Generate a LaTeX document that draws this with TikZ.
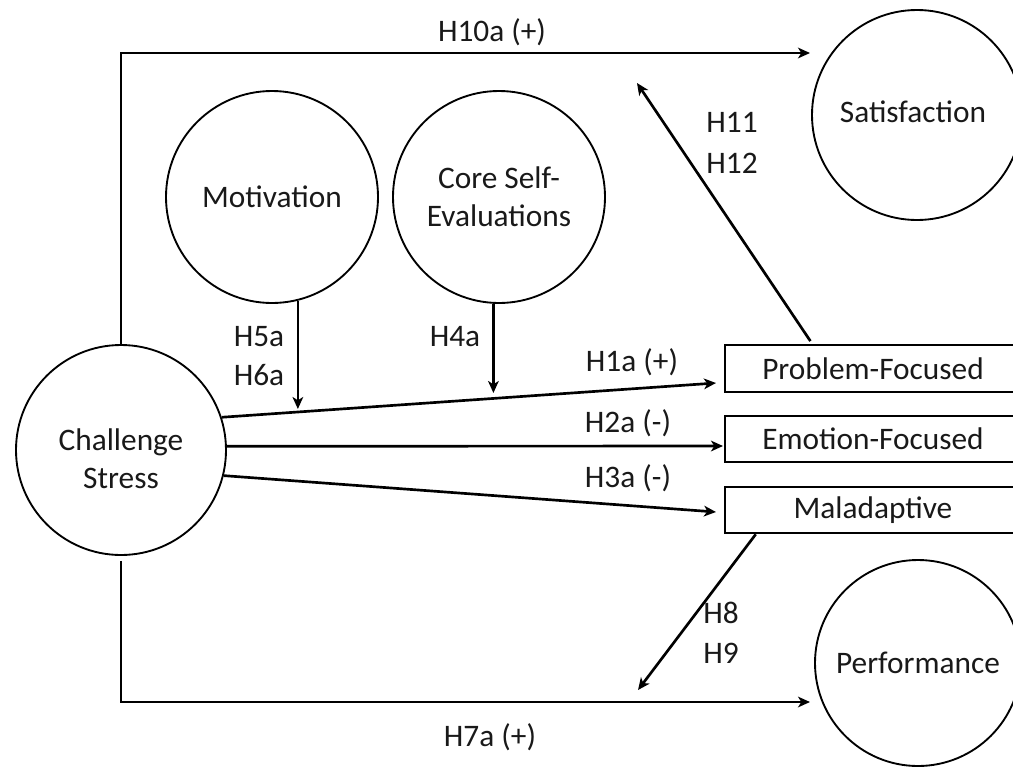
\documentclass[tikz,border=0pt]{standalone}
\usepackage{fontspec}
\setmainfont{Carlito}
\usetikzlibrary{arrows.meta}
\begin{document}
\begin{tikzpicture}[x=0.75pt,y=-0.75pt,
  every node/.style={font=\fontsize{23.5pt}{28.5pt}\selectfont, text=black!90},
  circ/.style={draw, circle, line width=1.4pt, inner sep=0pt},
  box/.style={draw, rectangle, line width=1.9pt, minimum width=222pt, inner sep=0pt},
  arr/.style={line width=2pt, -{Stealth[length=9pt,width=8pt,inset=2.5pt]}},
  ln/.style={line width=2pt},
  lbl/.style={inner sep=0pt}]
\useasboundingbox (0,0) rectangle (1013,768);
\clip (0,0) rectangle (1013,768);
% nodes
\node[circ, minimum size=157.5pt] (CS) at (121,450) {};
\node[lbl, align=center] (CSt) at (121,458.5) {Challenge\\Stress};
\node[circ, minimum size=159pt] (Mot) at (272,197) {Motivation};
\node[circ, minimum size=159pt, align=center] (Core) at (499,197) {Core Self-\\Evaluations};
\node[circ, minimum size=157.5pt] (Sat) at (917,115) {};
\node[lbl] (Satt) at (913,112) {Satisfaction};
\node[circ, minimum size=154.5pt] (Perf) at (918,663) {Performance};
\node[box, minimum height=35.25pt] (PF) at (873,368.5) {Problem-Focused};
\node[box, minimum height=34.5pt] (EF) at (873,439) {Emotion-Focused};
\node[box, minimum height=34.5pt] (Mal) at (873,510) {Maladaptive};
% free ends
\coordinate (h10end) at (810,53);
\coordinate (h7end) at (810,702);
\coordinate (h1end) at (716,383);
\coordinate (h2end) at (723,446);
\coordinate (h3end) at (716,512);
\coordinate (h5end) at (298.5,409);
\coordinate (h4end) at (493,393);
\coordinate (h11end) at (637,83);
\coordinate (h8end) at (638,690);
% connectors
\draw[arr] (CS.north) |- (h10end);
\draw[arr, shorten <=3.75pt] (CS.south) |- (h7end);
\draw[arr] (CS.18) -- (h1end);
\draw[arr] (CS.2) -- (h2end);
\draw[arr] (CS.-14) -- (h3end);
\draw[arr] (Mot.-76) -- (Mot.-76 |- h5end);
\draw[arr] (Core.-93) -- (Core.-93 |- h4end);
\draw[arr] ([xshift=65pt,yshift=2pt]PF.north west) -- (h11end);
\draw[arr] ([xshift=24pt]Mal.south west) -- (h8end);
% labels
\node[lbl] (l10) at (492,32) {H10a (+)};
\node[lbl] (l7) at (490,737) {H7a (+)};
\node[lbl] (l1) at (632,362) {H1a (+)};
\node[lbl] (l2) at (628,423) {H2a (-)};
\node[lbl] (l3) at (628,478) {H3a (-)};
\node[lbl] (l5) at (259,337) {H5a};
\node[lbl] (l6) at (259,375) {H6a};
\node[lbl] (l4) at (455,337) {H4a};
\node[lbl] (l11) at (732,122) {H11};
\node[lbl] (l12) at (732,163) {H12};
\node[lbl] (l8) at (721,613) {H8};
\node[lbl] (l9) at (721,653) {H9};
\end{tikzpicture}
\end{document}
